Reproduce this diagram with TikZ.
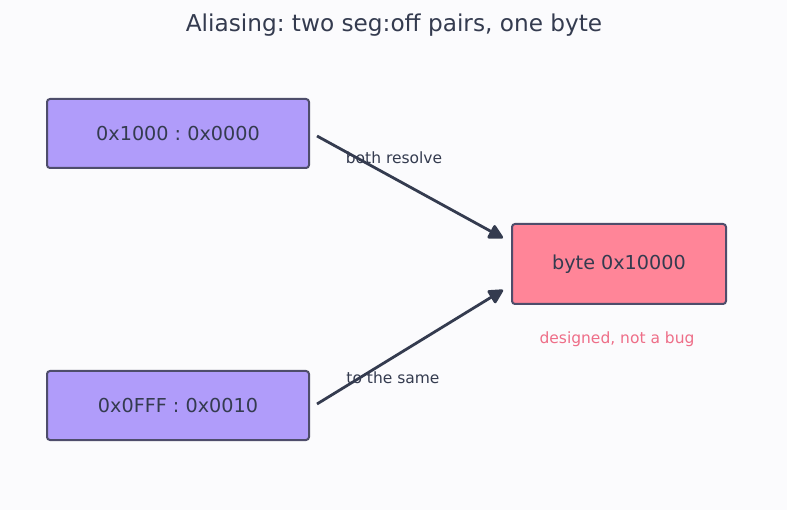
\documentclass[tikz,border=0pt]{standalone}
\usepackage{fontspec}
\setmainfont{DejaVu Sans}
\usetikzlibrary{arrows.meta,calc}
\definecolor{bg}{HTML}{FBFBFD}
\definecolor{ink}{HTML}{343B4F}
\definecolor{edgec}{HTML}{4E4D6B}
\definecolor{lav}{HTML}{B09CFA}
\definecolor{pinkc}{HTML}{FF8598}
\definecolor{notec}{HTML}{EE6E88}
\tikzset{
  segbox/.style={draw=edgec, line width=2pt, rounded corners=3pt, fill=lav, minimum width=262pt, minimum height=69pt, inner sep=0pt, text=ink, font=\fontsize{19.2}{22}\selectfont},
  bytebox/.style={segbox, fill=pinkc, minimum width=214pt, minimum height=80pt},
  conn/.style={draw=ink, line width=2.8pt, -{Triangle[length=16pt,width=16pt,round]}},
  elabel/.style={text=ink, font=\fontsize{15.5}{17}\selectfont, inner sep=0pt}
}
\begin{document}
\frenchspacing
\begin{tikzpicture}[x=1pt,y=-1pt]
\fill[bg] (0,0) rectangle (787,510);
\useasboundingbox (0,0) rectangle (787,510);
\node[text=ink, font=\fontsize{23.2}{26}\selectfont, inner sep=0pt] (title) at (394,25) {Aliasing: two seg:off pairs, one byte};
\node[segbox] (a) at (178,133.5) {0x1000 : 0x0000};
\node[segbox] (b) at (178,405.5) {0x0FFF : 0x0010};
\node[bytebox] (c) at (619,264) {byte 0x10000};
\node[text=notec, font=\fontsize{15.5}{17}\selectfont, inner sep=0pt] (note) at (617,339) {designed, not a bug};
\draw[conn] ([xshift=7pt,yshift=-2.5pt]a.east) -- ([xshift=-8pt,yshift=26pt]c.west);
\draw[conn] ([xshift=7pt,yshift=1.5pt]b.east) -- ([xshift=-8pt,yshift=-26pt]c.west);
\node[elabel] (l1) at (394,158) {both resolve};
\node[elabel] (l2) at (393,378) {to the same};
\end{tikzpicture}
\end{document}
